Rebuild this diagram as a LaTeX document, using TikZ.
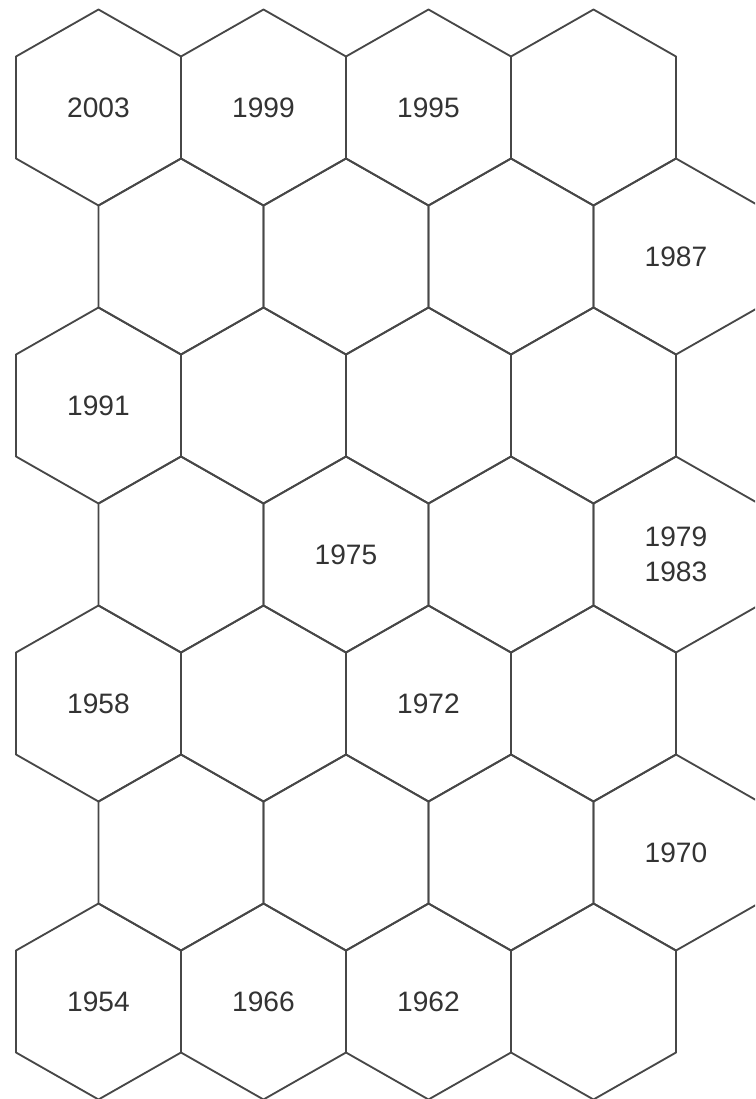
\documentclass[tikz,border=0pt]{standalone}
\usepackage{fontspec}
\setmainfont{Liberation Sans}
\begin{document}
\begin{tikzpicture}[
    x=0.02cm, y=-0.02cm,
    hex/.style={draw=black!72, line width=1.05pt, line join=round},
    year/.style={font=\fontsize{16}{20}\selectfont, text=black!80, align=center, inner sep=0pt}
]
    \useasboundingbox (0,0) rectangle (755,1099);
    \clip (0,0) rectangle (755,1099);
    % honeycomb, every other row shifted half a cell
    \foreach \r in {0,...,6} {
        \pgfmathsetmacro{\off}{98.5+82.5*mod(\r,2)}
        \foreach \c in {0,...,3} {
            \coordinate (h-\r-\c) at ({\off+165*\c},{107.5+149*\r});
            \draw[hex] (h-\r-\c) ++(0,-98) -- ++(82.5,47) -- ++(0,102) -- ++(-82.5,47)
                -- ++(-82.5,-47) -- ++(0,-102) -- cycle;
        }
    }

    \node[year] (y2003) at (h-0-0) {2003};
    \node[year] (y1999) at (h-0-1) {1999};
    \node[year] (y1995) at (h-0-2) {1995};
    \node[year] (y1987) at (h-1-3) {1987};
    \node[year] (y1991) at (h-2-0) {1991};
    \node[year] (y1975) at (h-3-1) {1975};
    \node[year] (y1979) at (h-3-3) {1979\\1983};
    \node[year] (y1958) at (h-4-0) {1958};
    \node[year] (y1972) at (h-4-2) {1972};
    \node[year] (y1970) at (h-5-3) {1970};
    \node[year] (y1954) at (h-6-0) {1954};
    \node[year] (y1966) at (h-6-1) {1966};
    \node[year] (y1962) at (h-6-2) {1962};
\end{tikzpicture}
\end{document}
